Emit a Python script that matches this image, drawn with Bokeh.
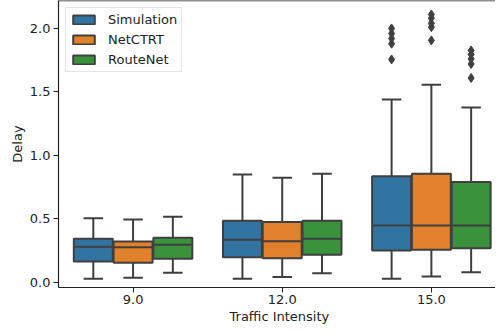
from bokeh.plotting import figure
from bokeh.models import ColumnDataSource, FixedTicker, Span, Legend, LegendItem, Title
from bokeh.embed import file_html
from bokeh.resources import INLINE

categories = ["9.0", "12.0", "15.0"]
series = ["Simulation", "NetCTRT", "RouteNet"]
colors = ["#3274a1", "#e1812c", "#3a923a"]

sim_lo = [0.029, 0.029, 0.029]
sim_q1 = [0.165, 0.199, 0.252]
sim_med = [0.281, 0.336, 0.449]
sim_q3 = [0.344, 0.486, 0.837]
sim_hi = [0.506, 0.850, 1.441]
sim_out = [[], [], [1.756, 1.88, 1.92, 1.96, 2.00]]

net_lo = [0.037, 0.042, 0.047]
net_q1 = [0.155, 0.191, 0.257]
net_med = [0.276, 0.325, 0.449]
net_q3 = [0.323, 0.475, 0.856]
net_hi = [0.496, 0.824, 1.556]
net_out = [[], [], [1.906, 2.01, 2.04, 2.08, 2.11]]

rn_lo = [0.076, 0.073, 0.081]
rn_q1 = [0.187, 0.218, 0.270]
rn_med = [0.297, 0.344, 0.449]
rn_q3 = [0.352, 0.486, 0.790]
rn_hi = [0.517, 0.856, 1.378]
rn_out = [[], [], [1.61, 1.72, 1.76, 1.795, 1.827]]

y_ticks = [0.0, 0.5, 1.0, 1.5, 2.0]
y_tick_labels = ["0.0", "0.5", "1.0", "1.5", "2.0"]
x_title = "Traffic Intensity"
y_title = "Delay"

stats = [
    (sim_lo, sim_q1, sim_med, sim_q3, sim_hi, sim_out),
    (net_lo, net_q1, net_med, net_q3, net_hi, net_out),
    (rn_lo, rn_q1, rn_med, rn_q3, rn_hi, rn_out),
]

FONT = "DejaVu Sans"
EDGE = "#3f3f3f"
TXT = "#222222"
group_w = 0.8
hue_w = group_w / len(series)
box_w = hue_w * 0.98
Y_TOP = 2.22
Y_BOTTOM = -0.040
FRAME_LEFT = 58
BORDER_BOTTOM = 41
FRAME_H = 328 - BORDER_BOTTOM

p = figure(width=495, height=328, output_backend="svg", toolbar_location=None,
           x_range=(-0.5, 2.43), y_range=(Y_BOTTOM, Y_TOP),
           min_border_left=FRAME_LEFT, min_border_right=0, min_border_top=0,
           min_border_bottom=BORDER_BOTTOM)
p.outline_line_color = None
p.xgrid.visible = False
p.ygrid.visible = False

legend_items = []
for i, (name, col, st) in enumerate(zip(series, colors, stats)):
    lo, q1, med, q3, hi, out = st
    off = -group_w / 2 + hue_w * (i + 0.5)
    xs = [k + off for k in range(len(categories))]
    src = ColumnDataSource(dict(
        x=xs, lo=lo, q1=q1, med=med, q3=q3, hi=hi,
        xl=[x - box_w / 2 for x in xs], xr=[x + box_w / 2 for x in xs],
        cl=[x - box_w / 4 for x in xs], cr=[x + box_w / 4 for x in xs],
    ))
    p.segment(x0="x", x1="x", y0="q3", y1="hi", source=src, line_color=EDGE, line_width=2)
    p.segment(x0="x", x1="x", y0="lo", y1="q1", source=src, line_color=EDGE, line_width=2)
    p.segment(x0="cl", x1="cr", y0="hi", y1="hi", source=src, line_color=EDGE, line_width=2)
    p.segment(x0="cl", x1="cr", y0="lo", y1="lo", source=src, line_color=EDGE, line_width=2)
    r = p.vbar(x="x", width=box_w, bottom="q1", top="q3", source=src,
               fill_color=col, line_color=EDGE, line_width=2)
    p.segment(x0="xl", x1="xr", y0="med", y1="med", source=src, line_color=EDGE, line_width=2)
    ox, oy = [], []
    for k, vals in enumerate(out):
        for v in vals:
            ox.append(xs[k])
            oy.append(v)
    if ox:
        p.scatter(x=ox, y=oy, marker="diamond", size=9, fill_color=EDGE, line_color=EDGE)
    legend_items.append(LegendItem(label=name, renderers=[r]))

p.add_layout(Span(location=Y_TOP, dimension="width", line_color=TXT, line_width=1.5))

legend = Legend(items=legend_items, location="top_left")
legend.label_text_font = FONT
legend.label_text_font_size = "13px"
legend.label_text_color = TXT
legend.glyph_width = 27
legend.glyph_height = 11
legend.label_height = 13
legend.spacing = 5
legend.padding = 4
legend.margin = 7
legend.label_standoff = 11
legend.border_line_color = "#cccccc"
legend.border_line_width = 1
legend.background_fill_alpha = 0.8
p.add_layout(legend)

# x-axis title placed as a title panel below the axis
p.add_layout(Title(text=x_title, align="left", offset=171, standoff=0,
                   text_font=FONT, text_font_size="13px", text_font_style="normal",
                   text_color=TXT), "below")

p.xaxis.ticker = FixedTicker(ticks=list(range(len(categories))))
p.xaxis.major_label_overrides = {k: c for k, c in enumerate(categories)}
p.yaxis.ticker = FixedTicker(ticks=y_ticks)
p.yaxis.major_label_overrides = dict(zip(y_ticks, y_tick_labels))
p.yaxis.axis_label = y_title
for ax in (p.xaxis[0], p.yaxis[0]):
    ax.axis_label_text_font = FONT
    ax.axis_label_text_font_size = "13px"
    ax.axis_label_text_font_style = "normal"
    ax.axis_label_text_color = TXT
    ax.major_label_text_font = FONT
    ax.major_label_text_font_size = "13px"
    ax.major_label_text_color = TXT
    ax.axis_line_color = TXT
    ax.axis_line_width = 1.2
    ax.major_tick_line_color = TXT
    ax.major_tick_in = 0
    ax.major_tick_out = 5
    ax.minor_tick_line_color = None
p.xaxis.major_label_standoff = 2
p.yaxis.major_label_standoff = 3
p.yaxis.axis_label_standoff = 2

open("out.html", "w").write(file_html(p, INLINE))
